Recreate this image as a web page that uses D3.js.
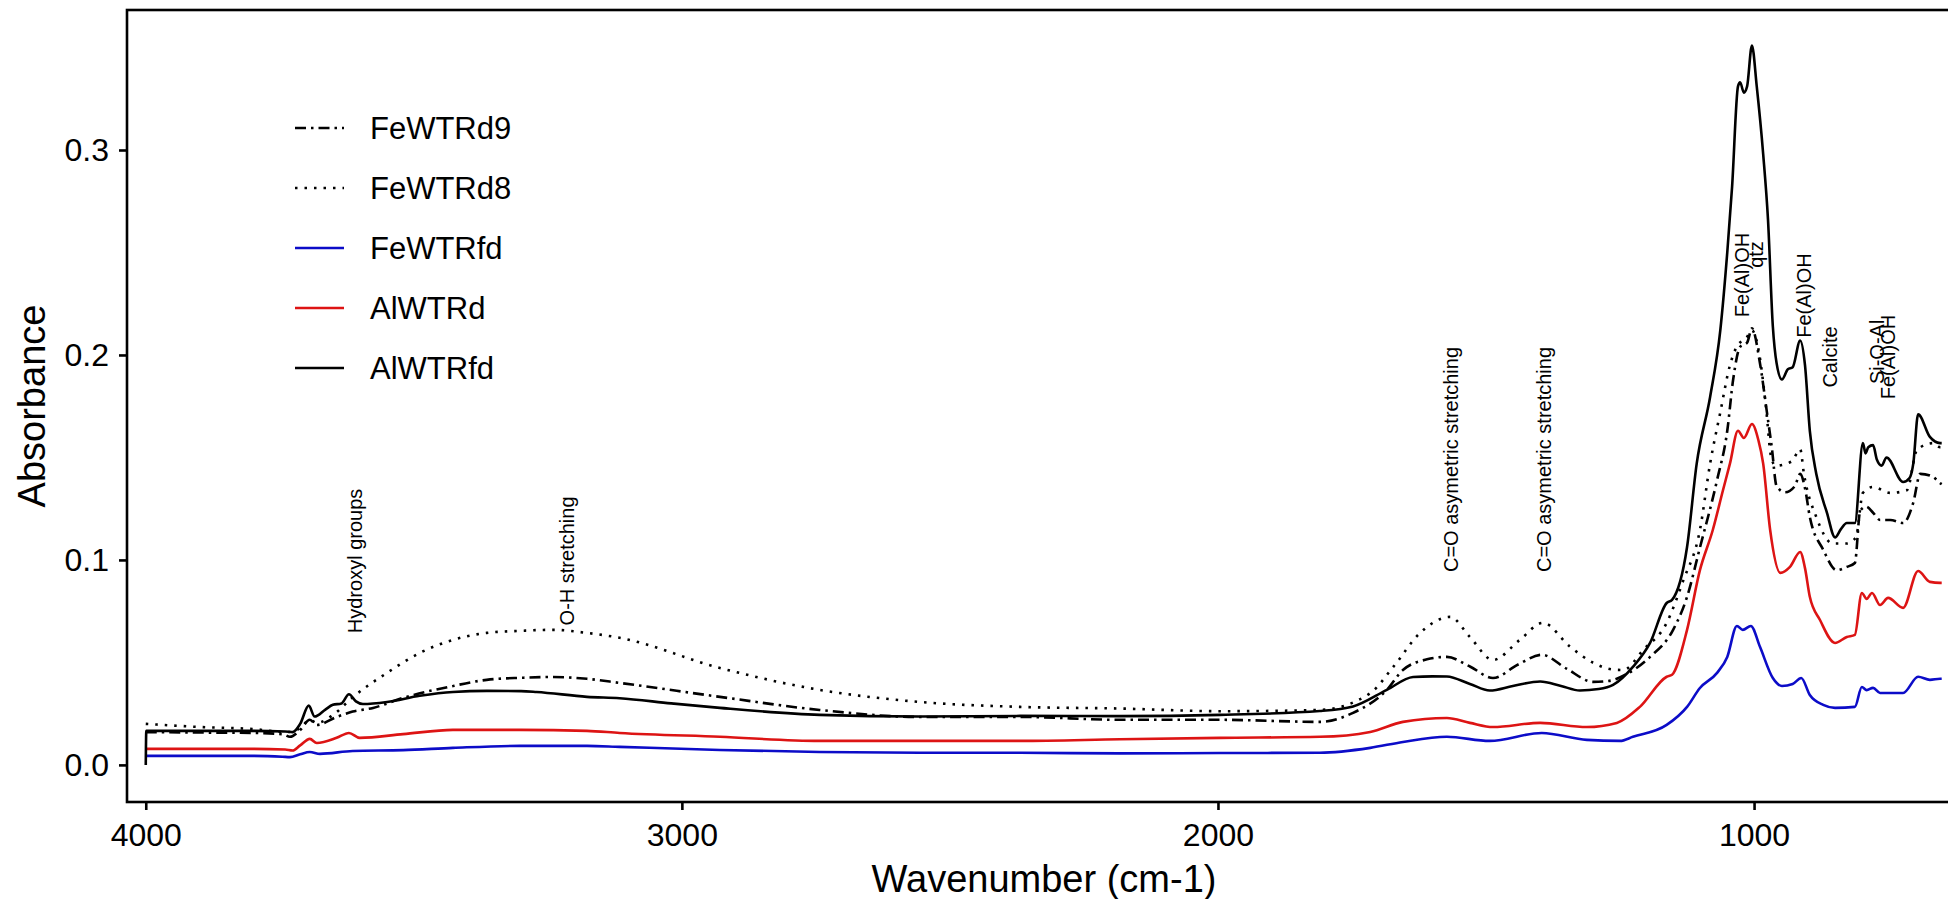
<!DOCTYPE html>
<html lang="en">
    <head>
        <meta charset="utf-8">
        <title>FTIR spectra</title>
        <script src="https://d3js.org/d3.v7.min.js"></script>
        <style>
            body { margin: 0; background: #ffffff; }
            text { font-family: "Liberation Sans", Arial, sans-serif; }
        </style>
    </head>

    <body>
        <div id="chart"></div>

        <script>
            // series names and looks (legend order)
            var seriesNames = ["FeWTRd9", "FeWTRd8", "FeWTRfd", "AlWTRd", "AlWTRfd"];

            // [wavenumber, absorbance]
            var FeWTRd9 = [[4000, 0.0160], [3900, 0.0158], [3800, 0.0156], [3745, 0.0150], [3731, 0.0137], [3712, 0.0170],
                [3694, 0.0220], [3681, 0.0195], [3644, 0.0234], [3614, 0.0260], [3576, 0.0278], [3520, 0.0327],
                [3427, 0.0385], [3364, 0.0415], [3300, 0.0425], [3241, 0.0429], [3177, 0.0420], [3116, 0.0400],
                [2929, 0.0332], [2743, 0.0268], [2556, 0.0234], [2369, 0.0234], [2183, 0.0220], [1996, 0.0220],
                [1810, 0.0210], [1748, 0.0254], [1685, 0.0366], [1655, 0.0463], [1610, 0.0515], [1573, 0.0527],
                [1530, 0.0480], [1487, 0.0424], [1440, 0.0490], [1396, 0.0537], [1350, 0.0470], [1300, 0.0405],
                [1270, 0.0410], [1240, 0.0440], [1194, 0.0527], [1151, 0.0659], [1125, 0.0820], [1101, 0.1060],
                [1069, 0.1390], [1050, 0.1630], [1039, 0.1880], [1026, 0.2040], [1013, 0.2060], [1004, 0.2130],
                [989, 0.1960], [976, 0.1720], [967, 0.1550], [958, 0.1360], [942, 0.1330], [924, 0.1360],
                [914, 0.1420], [905, 0.1350], [896, 0.1210], [871, 0.1050], [846, 0.0950], [827, 0.0966],
                [812, 0.0985], [802, 0.1240], [791, 0.1260], [778, 0.1230], [765, 0.1195], [746, 0.1195],
                [722, 0.1180], [703, 0.1280], [690, 0.1420], [666, 0.1405], [653, 0.1375], [650, 0.1370]];

            var FeWTRd8 = [[4000, 0.0200], [3900, 0.0185], [3800, 0.0175], [3737, 0.0160], [3712, 0.0180], [3694, 0.0220],
                [3681, 0.0205], [3650, 0.0245], [3614, 0.0330], [3550, 0.0449], [3489, 0.0546], [3427, 0.0610],
                [3364, 0.0644], [3302, 0.0654], [3241, 0.0659], [3177, 0.0644], [3116, 0.0620], [2929, 0.0473],
                [2743, 0.0366], [2556, 0.0307], [2369, 0.0283], [2183, 0.0275], [1996, 0.0262], [1810, 0.0268],
                [1716, 0.0350], [1673, 0.0478], [1623, 0.0644], [1567, 0.0722], [1530, 0.0624], [1487, 0.0512],
                [1437, 0.0610], [1394, 0.0693], [1343, 0.0576], [1300, 0.0498], [1263, 0.0465], [1244, 0.0463],
                [1207, 0.0560], [1163, 0.0693], [1132, 0.0900], [1101, 0.1146], [1082, 0.1470], [1063, 0.1720],
                [1045, 0.1950], [1030, 0.2050], [1015, 0.2080], [1004, 0.2120], [990, 0.2000], [978, 0.1750],
                [968, 0.1500], [960, 0.1460], [930, 0.1480], [914, 0.1540], [907, 0.1420], [884, 0.1210],
                [853, 0.1080], [827, 0.1080], [810, 0.1110], [797, 0.1327], [778, 0.1356], [746, 0.1327],
                [715, 0.1340], [696, 0.1537], [666, 0.1570], [653, 0.1550], [650, 0.1550]];

            var FeWTRfd = [[4000, 0.0044], [3900, 0.0044], [3800, 0.0044], [3745, 0.0040], [3731, 0.0038], [3712, 0.0052],
                [3694, 0.0063], [3675, 0.0054], [3614, 0.0068], [3520, 0.0072], [3427, 0.0083], [3302, 0.0093],
                [3177, 0.0093], [3116, 0.0088], [2929, 0.0073], [2743, 0.0063], [2556, 0.0059], [2369, 0.0059],
                [2183, 0.0056], [1996, 0.0058], [1810, 0.0059], [1716, 0.0083], [1655, 0.0112], [1573, 0.0137],
                [1493, 0.0117], [1396, 0.0156], [1312, 0.0122], [1250, 0.0117], [1226, 0.0137], [1163, 0.0195],
                [1125, 0.0283], [1101, 0.0375], [1069, 0.0449], [1050, 0.0527], [1032, 0.0678], [1021, 0.0659],
                [1006, 0.0678], [989, 0.0576], [965, 0.0424], [948, 0.0385], [928, 0.0395], [912, 0.0424],
                [896, 0.0341], [871, 0.0293], [849, 0.0278], [812, 0.0283], [799, 0.0380], [790, 0.0365],
                [778, 0.0376], [765, 0.0351], [722, 0.0351], [694, 0.0430], [672, 0.0415], [653, 0.0420],
                [650, 0.0420]];

            var AlWTRd = [[4000, 0.0078], [3900, 0.0078], [3800, 0.0078], [3740, 0.0075], [3726, 0.0070], [3712, 0.0095],
                [3694, 0.0127], [3681, 0.0107], [3644, 0.0132], [3621, 0.0156], [3601, 0.0132], [3520, 0.0150],
                [3427, 0.0171], [3302, 0.0171], [3177, 0.0166], [3116, 0.0156], [2929, 0.0137], [2743, 0.0117],
                [2556, 0.0117], [2369, 0.0117], [2183, 0.0125], [1996, 0.0132], [1810, 0.0137], [1716, 0.0161],
                [1655, 0.0210], [1573, 0.0229], [1530, 0.0205], [1487, 0.0185], [1399, 0.0205], [1312, 0.0185],
                [1256, 0.0205], [1213, 0.0283], [1163, 0.0430], [1153, 0.0440], [1125, 0.0659], [1101, 0.0950],
                [1077, 0.1146], [1058, 0.1340], [1045, 0.1470], [1030, 0.1630], [1019, 0.1595], [1004, 0.1663],
                [992, 0.1585], [983, 0.1470], [970, 0.1146], [951, 0.0937], [933, 0.0966], [914, 0.1039],
                [905, 0.0960], [896, 0.0820], [877, 0.0707], [849, 0.0595], [827, 0.0624], [812, 0.0634],
                [799, 0.0839], [790, 0.0810], [780, 0.0839], [765, 0.0780], [750, 0.0815], [722, 0.0766],
                [694, 0.0946], [672, 0.0893], [653, 0.0888], [650, 0.0888]];

            var AlWTRfd = [[4000, 0.0000], [3999, 0.0166], [3900, 0.0166], [3800, 0.0166], [3740, 0.0163], [3726, 0.0160],
                [3712, 0.0200], [3696, 0.0289], [3685, 0.0236], [3665, 0.0270], [3651, 0.0293], [3635, 0.0300],
                [3621, 0.0345], [3608, 0.0310], [3595, 0.0297], [3550, 0.0307], [3489, 0.0337], [3427, 0.0356],
                [3364, 0.0361], [3300, 0.0360], [3271, 0.0356], [3177, 0.0332], [3116, 0.0325], [3020, 0.0300],
                [2929, 0.0278], [2743, 0.0244], [2556, 0.0236], [2369, 0.0239], [2183, 0.0238], [1996, 0.0244],
                [1810, 0.0263], [1748, 0.0285], [1685, 0.0366], [1636, 0.0429], [1600, 0.0432], [1573, 0.0431],
                [1530, 0.0395], [1493, 0.0363], [1450, 0.0385], [1399, 0.0407], [1360, 0.0385], [1325, 0.0363],
                [1290, 0.0370], [1263, 0.0390], [1226, 0.0478], [1194, 0.0595], [1163, 0.0790], [1153, 0.0805],
                [1125, 0.1063], [1107, 0.1470], [1082, 0.1795], [1063, 0.2120], [1050, 0.2500], [1041, 0.2820],
                [1030, 0.3310], [1026, 0.3330], [1019, 0.3280], [1013, 0.3310], [1004, 0.3510], [995, 0.3310],
                [983, 0.2980], [974, 0.2660], [965, 0.2140], [958, 0.1960], [948, 0.1880], [937, 0.1930],
                [928, 0.1940], [914, 0.2070], [905, 0.1950], [896, 0.1630], [884, 0.1420], [864, 0.1230],
                [849, 0.1110], [838, 0.1150], [827, 0.1180], [812, 0.1180], [797, 0.1570], [792, 0.1520],
                [787, 0.1550], [778, 0.1560], [771, 0.1490], [762, 0.1460], [753, 0.1500], [722, 0.1380],
                [710, 0.1400], [703, 0.1470], [694, 0.1710], [672, 0.1600], [653, 0.1570], [650, 0.1570]];

            var seriesData = [FeWTRd9, FeWTRd8, FeWTRfd, AlWTRd, AlWTRfd];

            // band labels: text, wavenumber, absorbance at the label's middle
            var bandLabels = ["Hydroxyl groups", "O-H stretching", "C=O asymetric stretching", "C=O asymetric stretching",
                "Fe(Al)OH", "qtz", "Fe(Al)OH", "Calcite", "Si-O-Al", "Fe(Al)OH"];
            var bandWn = [3610, 3215, 1565, 1392, 1022, 996, 907, 858, 771, 750];
            var bandAbs = [0.0995, 0.0995, 0.149, 0.149, 0.239, 0.249, 0.229, 0.199, 0.2015, 0.199];

            var xTicks = [4000, 3000, 2000, 1000];
            var yTicks = [0.0, 0.1, 0.2, 0.3];

            var width = 1948, height = 899;
            var panelLeft = 127, panelRight = 1961, panelTop = 10, panelBottom = 802;

            var svg = d3.select("#chart")
                        .append("svg")
                        .attr("width", width)
                        .attr("height", height);

            svg.append("rect")
               .attr("width", width)
               .attr("height", height)
               .attr("fill", "#ffffff");

            var x = d3.scaleLinear().domain([4035, 614]).range([panelLeft, panelRight]);
            var y = d3.scaleLinear().domain([-0.0181, 0.3683]).range([panelBottom, panelTop]);

            var colors = ["#000000", "#000000", "#0c0cc8", "#dd1414", "#000000"];
            var dashes = ["11,5,2.5,5", "2.5,7", null, null, null];

            svg.append("clipPath")
               .attr("id", "panel-clip")
               .append("rect")
               .attr("x", panelLeft)
               .attr("y", panelTop)
               .attr("width", panelRight - panelLeft)
               .attr("height", panelBottom - panelTop);

            var line = d3.line()
                         .x(function(d){ return x(d[0]); })
                         .y(function(d){ return y(d[1]); })
                         .curve(d3.curveMonotoneX);

            // solid ones last so they sit on top
            var drawOrder = [1, 0, 2, 3, 4];
            var lines = svg.append("g").attr("clip-path", "url(#panel-clip)");
            drawOrder.forEach(function(i){
                lines.append("path")
                     .attr("d", line(seriesData[i]))
                     .attr("fill", "none")
                     .attr("stroke", colors[i])
                     .attr("stroke-width", 2.6)
                     .attr("stroke-dasharray", dashes[i])
                     .attr("stroke-linejoin", "round");
            });

            // band annotations (vertical text)
            bandLabels.forEach(function(t, i){
                svg.append("text")
                   .attr("transform", "translate(" + x(bandWn[i]) + "," + y(bandAbs[i]) + ") rotate(-90)")
                   .attr("text-anchor", "middle")
                   .attr("dy", "0.35em")
                   .style("font-size", "20px")
                   .attr("fill", "#000000")
                   .text(t);
            });

            // panel border
            svg.append("rect")
               .attr("x", panelLeft)
               .attr("y", panelTop)
               .attr("width", panelRight - panelLeft)
               .attr("height", panelBottom - panelTop)
               .attr("fill", "none")
               .attr("stroke", "#000000")
               .attr("stroke-width", 2.6);

            // axes
            var xAxis = svg.append("g")
                           .attr("transform", "translate(0," + panelBottom + ")")
                           .call(d3.axisBottom(x).tickValues(xTicks).tickSize(8).tickPadding(13).tickFormat(d3.format("d")));
            var yAxis = svg.append("g")
                           .attr("transform", "translate(" + panelLeft + ",0)")
                           .call(d3.axisLeft(y).tickValues(yTicks).tickSize(8).tickPadding(10).tickFormat(d3.format(".1f")));

            [xAxis, yAxis].forEach(function(a){
                a.select(".domain").remove();
                a.selectAll(".tick line").attr("stroke", "#000000").attr("stroke-width", 2.6);
                a.selectAll(".tick text")
                 .attr("fill", "#000000")
                 .style("font-size", "32px")
                 .style("font-family", "'Liberation Sans', Arial, sans-serif");
            });

            // axis titles
            svg.append("text")
               .attr("x", (panelLeft + panelRight) / 2)
               .attr("y", 892)
               .attr("text-anchor", "middle")
               .style("font-size", "38px")
               .text("Wavenumber (cm-1)");

            svg.append("text")
               .attr("transform", "translate(45," + ((panelTop + panelBottom) / 2) + ") rotate(-90)")
               .attr("text-anchor", "middle")
               .style("font-size", "38px")
               .text("Absorbance");

            // legend
            var legend = svg.append("g");
            seriesNames.forEach(function(name, i){
                var ly = 128 + i * 60;
                legend.append("line")
                      .attr("x1", 295).attr("x2", 344)
                      .attr("y1", ly).attr("y2", ly)
                      .attr("stroke", colors[i])
                      .attr("stroke-width", 2.6)
                      .attr("stroke-dasharray", dashes[i]);
                legend.append("text")
                      .attr("x", 370)
                      .attr("y", ly)
                      .attr("dy", "0.35em")
                      .style("font-size", "31px")
                      .text(name);
            });
        </script>
    </body>
</html>
